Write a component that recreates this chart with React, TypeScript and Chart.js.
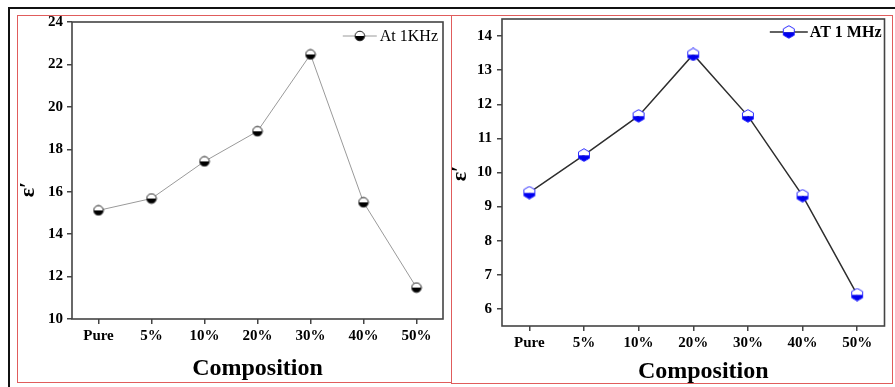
import React, { useEffect, useRef } from "react";
import { Chart, registerables } from "chart.js";
Chart.register(...registerables);

const categories = ["Pure", "5%", "10%", "20%", "30%", "40%", "50%"];
const kHzValues = [15.12, 15.68, 17.43, 18.85, 22.47, 15.5, 11.48];
const mHzValues = [9.41, 10.51, 11.66, 13.46, 11.66, 9.32, 6.42];
const kHzTicks = [10, 12, 14, 16, 18, 20, 22, 24];
const mHzTicks = [6, 7, 8, 9, 10, 11, 12, 13, 14];
const kHzRange = [10, 24];
const mHzRange = [5.5, 14.5];
const kHzLabel = "At 1KHz";
const mHzLabel = "AT 1 MHz";
const yTitle = "ε′";
const xTitle = "Composition";

const SERIF = "'Liberation Serif', 'Times New Roman', serif";
const AXIS = "#444444";
const RED = "#e05c5c";

function halfCircleMarker(): HTMLCanvasElement {
  const c = document.createElement("canvas");
  c.width = 12;
  c.height = 12;
  const ctx = c.getContext("2d")!;
  const cx = 6, cy = 6, r = 4.8;
  ctx.fillStyle = "#ffffff";
  ctx.beginPath();
  ctx.arc(cx, cy, r, Math.PI, 2 * Math.PI);
  ctx.closePath();
  ctx.fill();
  ctx.fillStyle = "#000000";
  ctx.beginPath();
  ctx.arc(cx, cy, r, 0, Math.PI);
  ctx.closePath();
  ctx.fill();
  ctx.strokeStyle = "#222222";
  ctx.lineWidth = 1;
  ctx.beginPath();
  ctx.arc(cx, cy, r, 0, 2 * Math.PI);
  ctx.stroke();
  return c;
}

function hexMarker(): HTMLCanvasElement {
  const c = document.createElement("canvas");
  c.width = 14;
  c.height = 14;
  const ctx = c.getContext("2d")!;
  const cx = 7, cy = 7, r = 6.3;
  const hw = r * Math.cos(Math.PI / 6);
  const mid = cy + 0.3;
  ctx.fillStyle = "#ffffff";
  ctx.beginPath();
  ctx.moveTo(cx, cy - r);
  ctx.lineTo(cx + hw, cy - r / 2);
  ctx.lineTo(cx + hw, mid);
  ctx.lineTo(cx - hw, mid);
  ctx.lineTo(cx - hw, cy - r / 2);
  ctx.closePath();
  ctx.fill();
  ctx.fillStyle = "#0000ee";
  ctx.beginPath();
  ctx.moveTo(cx - hw, mid);
  ctx.lineTo(cx + hw, mid);
  ctx.lineTo(cx + hw, cy + r / 2);
  ctx.lineTo(cx, cy + r);
  ctx.lineTo(cx - hw, cy + r / 2);
  ctx.closePath();
  ctx.fill();
  ctx.strokeStyle = "#2a2aff";
  ctx.lineWidth = 1;
  ctx.beginPath();
  for (let i = 0; i < 6; i++) {
    const a = -Math.PI / 2 + (i * Math.PI) / 3;
    const x = cx + r * Math.cos(a);
    const y = cy + r * Math.sin(a);
    if (i === 0) ctx.moveTo(x, y);
    else ctx.lineTo(x, y);
  }
  ctx.closePath();
  ctx.stroke();
  return c;
}

interface PanelCfg {
  left: number;
  top: number;
  width: number;
  height: number;
  values: number[];
  ticks: number[];
  range: number[];
  label: string;
  legendBold: boolean;
  legendSize: number;
  lineColor: string;
  lineWidth: number;
  markerKind: "circle" | "hex";
  pad: { left: number; right: number; top: number; bottom: number };
  yWidth: number;
  xHeight: number;
  yTickPad: number;
  xTickPad: number;
  legendGap: number;
  legendDy: number;
  legendLineStart: number;
  legendLineEnd: number;
  xTitleDx: number;
  xTitleDy: number;
  yTitleDx: number;
  yTitleDy: number;
}

function Panel({ cfg }: { cfg: PanelCfg }) {
  const ref = useRef<HTMLCanvasElement | null>(null);
  useEffect(() => {
    const canvas = ref.current;
    if (!canvas) return;
    const marker = cfg.markerKind === "circle" ? halfCircleMarker() : hexMarker();

    const framePlugin = {
      id: "frame",
      beforeDatasetsDraw(chart: any) {
        const { ctx, chartArea: a } = chart;
        ctx.save();
        ctx.strokeStyle = AXIS;
        ctx.lineWidth = 1.6;
        ctx.strokeRect(a.left, a.top, a.right - a.left, a.bottom - a.top);
        ctx.restore();
      },
    };

    const legendPlugin = {
      id: "legendItem",
      afterDraw(chart: any) {
        const { ctx, chartArea: a } = chart;
        ctx.save();
        ctx.font = `${cfg.legendBold ? "bold " : ""}${cfg.legendSize}px ${SERIF}`;
        const w = ctx.measureText(cfg.label).width;
        const textX = a.right - cfg.legendGap - w;
        const y = a.top + cfg.legendDy;
        ctx.strokeStyle = cfg.lineColor;
        ctx.lineWidth = cfg.lineWidth;
        ctx.beginPath();
        ctx.moveTo(textX - cfg.legendLineStart, y);
        ctx.lineTo(textX - cfg.legendLineEnd, y);
        ctx.stroke();
        const mx = textX - (cfg.legendLineStart + cfg.legendLineEnd) / 2;
        ctx.drawImage(marker, mx - marker.width / 2, y - marker.height / 2);
        ctx.fillStyle = "#000";
        ctx.textAlign = "left";
        ctx.textBaseline = "middle";
        ctx.fillText(cfg.label, textX, y + 1);
        ctx.restore();
      },
    };

    const titlePlugin = {
      id: "titles",
      afterDraw(chart: any) {
        const { ctx, chartArea: a } = chart;
        ctx.save();
        ctx.fillStyle = "#000";
        ctx.font = `bold 24px ${SERIF}`;
        ctx.textAlign = "center";
        ctx.textBaseline = "alphabetic";
        ctx.fillText(xTitle, (a.left + a.right) / 2 + cfg.xTitleDx, a.bottom + cfg.xTitleDy);
        ctx.translate(a.left + cfg.yTitleDx, (a.top + a.bottom) / 2 + cfg.yTitleDy);
        ctx.rotate(-Math.PI / 2);
        ctx.font = `bold 22px ${SERIF}`;
        ctx.textBaseline = "middle";
        ctx.fillText(yTitle, 0, 0);
        ctx.restore();
      },
    };

    const tickFont = { family: SERIF, size: 15, weight: "bold" as const };

    const chart = new Chart(canvas, {
      type: "line",
      data: {
        labels: categories,
        datasets: [
          {
            label: cfg.label,
            data: cfg.values,
            borderColor: cfg.lineColor,
            borderWidth: cfg.lineWidth,
            pointStyle: marker as any,
            pointRadius: 6,
            pointHoverRadius: 6,
            fill: false,
            tension: 0,
          },
        ],
      },
      options: {
        responsive: false,
        animation: false,
        devicePixelRatio: 1,
        events: [],
        layout: { padding: cfg.pad },
        plugins: { legend: { display: false }, tooltip: { enabled: false } },
        scales: {
          x: {
            type: "category",
            offset: true,
            grid: {
              display: true,
              drawOnChartArea: false,
              drawTicks: true,
              tickLength: 5,
              color: AXIS,
              lineWidth: 1.5,
              offset: false,
            },
            border: { display: false },
            ticks: {
              color: "#000",
              font: tickFont,
              padding: cfg.xTickPad,
              maxRotation: 0,
              autoSkip: false,
            },
            afterFit: (s: any) => {
              s.height = cfg.xHeight;
            },
          },
          y: {
            type: "linear",
            min: cfg.range[0],
            max: cfg.range[1],
            grid: {
              display: true,
              drawOnChartArea: false,
              drawTicks: true,
              tickLength: 5,
              color: AXIS,
              lineWidth: 1.5,
            },
            border: { display: false },
            ticks: { color: "#000", font: tickFont, padding: cfg.yTickPad },
            afterBuildTicks: (s: any) => {
              s.ticks = cfg.ticks.map((v) => ({ value: v }));
            },
            afterFit: (s: any) => {
              s.width = cfg.yWidth;
            },
          },
        },
      } as any,
      plugins: [framePlugin, legendPlugin, titlePlugin],
    });
    return () => chart.destroy();
  }, [cfg]);

  return (
    <canvas
      ref={ref}
      width={cfg.width}
      height={cfg.height}
      style={{
        position: "absolute",
        left: cfg.left,
        top: cfg.top,
        width: cfg.width,
        height: cfg.height,
      }}
    />
  );
}

const leftCfg: PanelCfg = {
  left: 18,
  top: 0,
  width: 432,
  height: 382,
  values: kHzValues,
  ticks: kHzTicks,
  range: kHzRange,
  label: kHzLabel,
  legendBold: false,
  legendSize: 16,
  lineColor: "#9a9a9a",
  lineWidth: 1,
  markerKind: "circle",
  pad: { left: 0, right: 4, top: 22, bottom: 0 },
  yWidth: 54,
  xHeight: 63,
  yTickPad: 4,
  xTickPad: 3,
  legendGap: 5,
  legendDy: 14,
  legendLineStart: 37,
  legendLineEnd: 3,
  xTitleDx: 0,
  xTitleDy: 56,
  yTitleDx: -44,
  yTitleDy: 19,
};

const rightCfg: PanelCfg = {
  left: 452,
  top: 0,
  width: 440,
  height: 383,
  values: mHzValues,
  ticks: mHzTicks,
  range: mHzRange,
  label: mHzLabel,
  legendBold: true,
  legendSize: 16,
  lineColor: "#2e2e2e",
  lineWidth: 1.5,
  markerKind: "hex",
  pad: { left: 0, right: 2, top: 19, bottom: 0 },
  yWidth: 50,
  xHeight: 57,
  yTickPad: 5,
  xTickPad: 3,
  legendGap: 3,
  legendDy: 13,
  legendLineStart: 40,
  legendLineEnd: 2,
  xTitleDx: 10,
  xTitleDy: 52,
  yTitleDx: -42,
  yTitleDy: 1,
};

export default function App() {
  const line = (s: React.CSSProperties): React.CSSProperties => ({
    position: "absolute",
    pointerEvents: "none",
    zIndex: 2,
    ...s,
  });
  return (
    <div
      style={{
        position: "absolute",
        left: 0,
        top: 0,
        width: 895,
        height: 387,
        background: "#ffffff",
        overflow: "hidden",
      }}
    >
      <Panel cfg={leftCfg} />
      <Panel cfg={rightCfg} />
      <div style={line({ left: 8, top: 7, width: 887, height: 2, background: "#111" })} />
      <div style={line({ left: 8, top: 7, width: 2, height: 380, background: "#111" })} />
      <div
        style={line({
          left: 17,
          top: 15,
          width: 435,
          height: 368,
          border: `1px solid ${RED}`,
          boxSizing: "border-box",
        })}
      />
      <div
        style={line({
          left: 451,
          top: 15,
          width: 442,
          height: 369,
          border: `1px solid ${RED}`,
          boxSizing: "border-box",
        })}
      />
    </div>
  );
}
